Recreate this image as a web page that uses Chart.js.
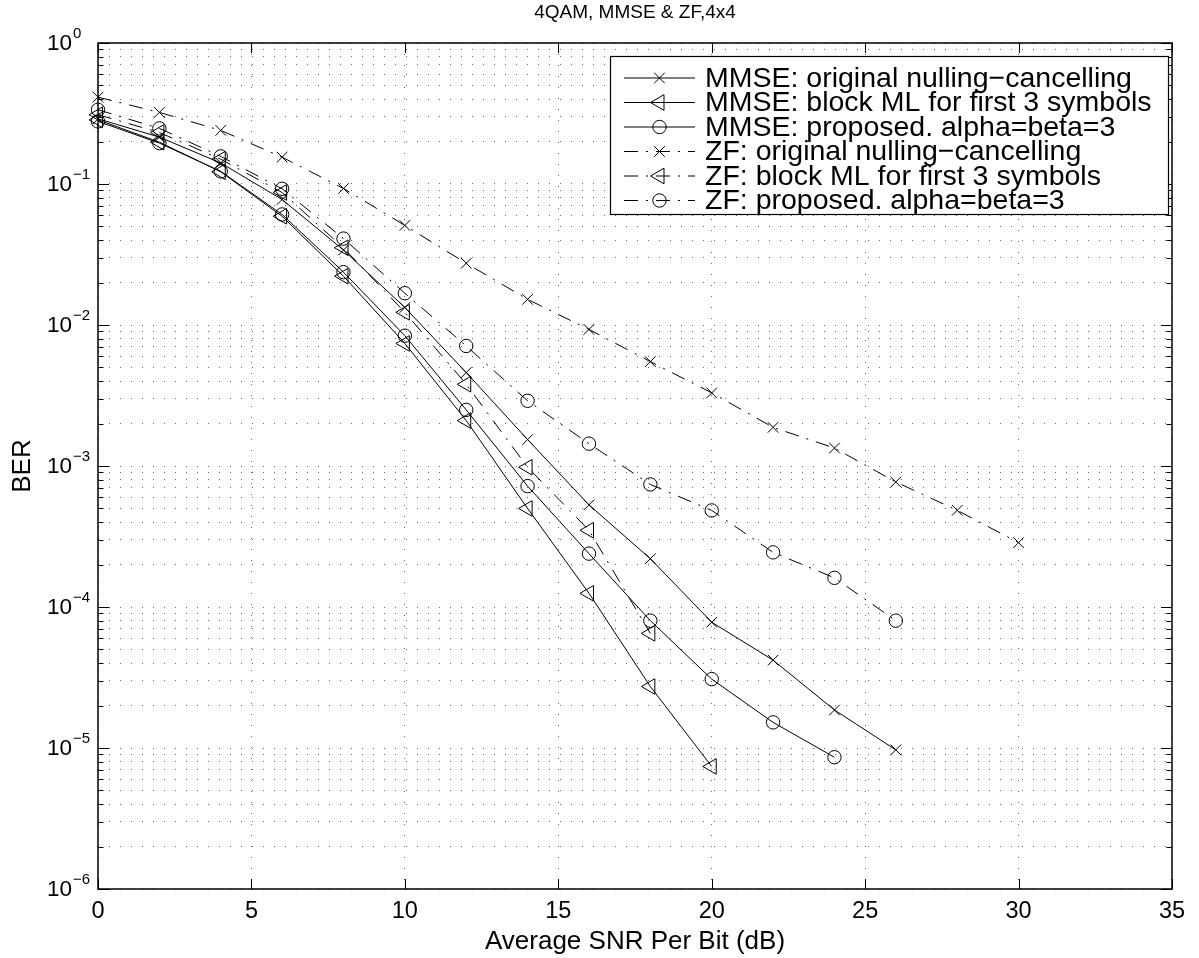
<!DOCTYPE html>
<html>
<head>
<meta charset="utf-8">
<script src="https://cdn.jsdelivr.net/npm/chart.js@4/dist/chart.umd.min.js"></script>
<style>
  html, body { margin: 0; padding: 0; background: #fff; }
  #wrap { width: 1199px; height: 958px; }
</style>
</head>
<body>
<div id="wrap"><canvas id="c" width="1199" height="958"></canvas></div>
<script>
// ---------- data ----------
const snr = [0, 2, 4, 6, 8, 10, 12, 14, 16, 18, 20, 22, 24, 26, 28, 30];
const mmseOrig  = [0.29, 0.215, 0.141, 0.0776, 0.034, 0.0133, 0.0046, 0.00154, 0.00053, 0.00022, 7.8e-5, 4.2e-5, 1.86e-5, 9.7e-6];
const mmseBlock = [0.285, 0.198, 0.122, 0.059, 0.0222, 0.0074, 0.0021, 0.0005, 0.000125, 2.73e-5, 7.4e-6];
const mmseProp  = [0.278, 0.195, 0.123, 0.0608, 0.0237, 0.0084, 0.0025, 0.00072, 0.000239, 8.0e-5, 3.08e-5, 1.52e-5, 8.6e-6];
const zfOrig    = [0.413, 0.322, 0.24, 0.155, 0.093, 0.0508, 0.0274, 0.0152, 0.0093, 0.0055, 0.0033, 0.00188, 0.00134, 0.00077, 0.000485, 0.000286];
const zfBlock   = [0.31, 0.232, 0.15, 0.087, 0.0353, 0.0123, 0.0038, 0.00098, 0.00035, 6.5e-5];
const zfProp    = [0.336, 0.248, 0.157, 0.0925, 0.041, 0.0168, 0.0071, 0.0029, 0.00144, 0.00074, 0.000484, 0.000244, 0.000161, 8.0e-5];
const seriesNames = [
  'MMSE: original nulling\u2212cancelling',
  'MMSE: block ML for first 3 symbols',
  'MMSE: proposed. alpha=beta=3',
  'ZF: original nulling\u2212cancelling',
  'ZF: block ML for first 3 symbols',
  'ZF: proposed. alpha=beta=3'
];
const xTickValues = [0, 5, 10, 15, 20, 25, 30, 35];
const yDecadeExps = [0, -1, -2, -3, -4, -5, -6];
const titleText = '4QAM, MMSE & ZF,4x4';
const xTitle = 'Average SNR Per Bit (dB)';
const yTitle = 'BER';

// ---------- styling ----------
const FONT = '"Liberation Sans", Arial, Helvetica, sans-serif';
const DASHDOT = [14, 8, 2, 8];
function pts(arr) { return arr.map((v, i) => ({ x: snr[i], y: v })); }
function mk(label, arr, style, dashed) {
  const base = {
    label, data: pts(arr),
    borderColor: '#000', borderWidth: 1, borderDash: dashed ? DASHDOT : [],
    pointBorderColor: '#000', pointBackgroundColor: 'rgba(0,0,0,0)', pointBorderWidth: 1,
    tension: 0, clip: false, fill: false
  };
  if (style === 'x') Object.assign(base, { pointStyle: 'crossRot', pointRadius: 7.5, pointRotation: 0 });
  if (style === 'tri') Object.assign(base, { pointStyle: 'triangle', pointRadius: 9, pointRotation: -90 });
  if (style === 'o') Object.assign(base, { pointStyle: 'circle', pointRadius: 6.7, pointRotation: 0 });
  base._mk = style;
  return base;
}
const datasets = [
  mk(seriesNames[0], mmseOrig, 'x', false),
  mk(seriesNames[1], mmseBlock, 'tri', false),
  mk(seriesNames[2], mmseProp, 'o', false),
  mk(seriesNames[3], zfOrig, 'x', true),
  mk(seriesNames[4], zfBlock, 'tri', true),
  mk(seriesNames[5], zfProp, 'o', true)
];

const yTicks = [];
for (let e = -6; e <= 0; e++) {
  for (let m = 1; m <= 9; m++) {
    const v = m * Math.pow(10, e);
    if (v <= 1.0000001) yTicks.push(v);
  }
}

function drawMarker(ctx, style, x, y) {
  ctx.save();
  ctx.setLineDash([]);
  ctx.lineWidth = 1;
  ctx.strokeStyle = '#000';
  ctx.beginPath();
  if (style === 'x') {
    const d = 7.5 * Math.SQRT1_2;
    ctx.moveTo(x - d, y - d); ctx.lineTo(x + d, y + d);
    ctx.moveTo(x - d, y + d); ctx.lineTo(x + d, y - d);
  } else if (style === 'o') {
    ctx.arc(x, y, 6.7, 0, Math.PI * 2);
  } else if (style === 'tri') {
    const r = 9;
    ctx.moveTo(x - r, y);
    ctx.lineTo(x + r * 0.5, y - r * Math.sqrt(3) / 2);
    ctx.lineTo(x + r * 0.5, y + r * Math.sqrt(3) / 2);
    ctx.closePath();
  }
  ctx.stroke();
  ctx.restore();
}

const decor = {
  id: 'decor',
  afterDraw(chart) {
    const ctx = chart.ctx;
    const a = chart.chartArea;
    const xs = chart.scales.x, ys = chart.scales.y;
    ctx.save();
    ctx.setLineDash([]);
    ctx.strokeStyle = '#000';
    // inward ticks
    ctx.lineWidth = 1;
    ctx.beginPath();
    xTickValues.forEach(v => {
      const px = Math.round(xs.getPixelForValue(v)) + 0.5;
      ctx.moveTo(px, a.bottom); ctx.lineTo(px, a.bottom - 10);
      ctx.moveTo(px, a.top); ctx.lineTo(px, a.top + 10);
    });
    yTicks.forEach(v => {
      const py = Math.round(ys.getPixelForValue(v)) + 0.5;
      const major = Math.abs(Math.log10(v) - Math.round(Math.log10(v))) < 1e-9;
      const len = major ? 11 : 5.5;
      ctx.moveTo(a.left, py); ctx.lineTo(a.left + len, py);
      ctx.moveTo(a.right, py); ctx.lineTo(a.right - len, py);
    });
    ctx.stroke();
    // frame
    ctx.lineWidth = 1.5;
    ctx.strokeRect(a.left, a.top, a.right - a.left, a.bottom - a.top);

    // y tick labels 10^k
    ctx.fillStyle = '#000';
    yDecadeExps.forEach(k => {
      const py = ys.getPixelForValue(Math.pow(10, k));
      ctx.font = '22.5px ' + FONT;
      ctx.textAlign = 'right';
      ctx.textBaseline = 'middle';
      ctx.fillText('10', 72, py + 1);
      ctx.font = '15px ' + FONT;
      ctx.textAlign = 'left';
      ctx.fillText(k === 0 ? '0' : '\u2212' + Math.abs(k), 73, py - 9);
    });

    // legend
    const L = { left: 610, top: 56, right: 1168, bottom: 214 };
    ctx.fillStyle = '#fff';
    ctx.fillRect(L.left, L.top, L.right - L.left, L.bottom - L.top);
    ctx.lineWidth = 1.2;
    ctx.strokeStyle = '#000';
    ctx.strokeRect(L.left + 0.5, L.top + 0.5, L.right - L.left, L.bottom - L.top);
    chart.data.datasets.forEach((ds, i) => {
      const y = 78 + i * 24.5;
      ctx.save();
      ctx.lineWidth = 1;
      ctx.setLineDash(ds.borderDash || []);
      ctx.beginPath();
      ctx.moveTo(624, y); ctx.lineTo(695, y);
      ctx.stroke();
      ctx.restore();
      drawMarker(ctx, ds._mk, 659.5, y);
      ctx.fillStyle = '#000';
      ctx.font = '28.5px ' + FONT;
      ctx.textAlign = 'left';
      ctx.textBaseline = 'middle';
      ctx.fillText(ds.label, 705, y + 1);
    });
    ctx.restore();
  }
};

new Chart(document.getElementById('c'), {
  type: 'line',
  data: { datasets },
  options: {
    responsive: false,
    animation: false,
    devicePixelRatio: 1,
    layout: { padding: { left: 0, right: 27, top: 0, bottom: 0 } },
    plugins: {
      legend: { display: false },
      tooltip: { enabled: false },
      title: {
        display: true, text: titleText, color: '#000', fullSize: false,
        font: { family: FONT, size: 19, weight: 'normal', lineHeight: 1.2 },
        padding: { top: 1, bottom: 19.2 }
      }
    },
    scales: {
      x: {
        type: 'linear', min: 0, max: 35,
        afterBuildTicks(s) { s.ticks = xTickValues.map(v => ({ value: v })); },
        ticks: { color: '#000', font: { family: FONT, size: 23.5, lineHeight: 1.2 }, padding: 8, maxRotation: 0, autoSkip: false },
        grid: { color: 'rgba(0,0,0,0.6)', lineWidth: 1, drawTicks: false },
        border: { display: false, dash: [1, 10] },
        title: { display: true, text: xTitle, color: '#000', font: { family: FONT, size: 26, lineHeight: 1.2 }, padding: { top: 0, bottom: 1 } },
        afterFit(s) { s.height = 69; }
      },
      y: {
        type: 'logarithmic', min: 1e-6, max: 1,
        afterBuildTicks(s) { s.ticks = yTicks.map(v => ({ value: v })); },
        ticks: { display: false },
        grid: { color: 'rgba(0,0,0,0.6)', lineWidth: 1, drawTicks: false },
        border: { display: false, dash: [1, 10] },
        title: { display: true, text: yTitle, color: '#000', font: { family: FONT, size: 26, lineHeight: 1.2 }, padding: { top: 7, bottom: 0 } },
        afterFit(s) { s.width = 98; }
      }
    }
  },
  plugins: [decor]
});
</script>
</body>
</html>
